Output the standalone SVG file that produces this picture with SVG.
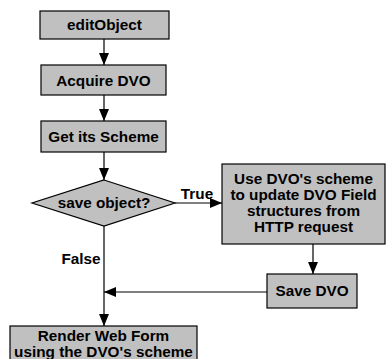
<svg xmlns="http://www.w3.org/2000/svg" width="387" height="359" viewBox="0 0 387 359">
<style>
.box{fill:#c0c0c0;stroke:#000;stroke-width:1.2}
.t{font-family:"Liberation Sans",Arial,sans-serif;font-weight:bold;font-size:15.3px;fill:#000;text-anchor:middle}
.c{stroke:#000;stroke-width:1.2;fill:none}
</style>
<defs>
<marker id="ah" viewBox="0 0 12 10" refX="12" refY="5" markerWidth="12" markerHeight="10" markerUnits="userSpaceOnUse" orient="auto">
<path d="M0,0 L12,5 L0,10 Z" fill="#000"/>
</marker>
</defs>
<rect width="387" height="359" fill="#fff"/>
<g id="connectors">
<line class="c" x1="104" y1="39" x2="104" y2="65" marker-end="url(#ah)"/>
<line class="c" x1="104" y1="95" x2="104" y2="121" marker-end="url(#ah)"/>
<line class="c" x1="104" y1="152" x2="104" y2="180" marker-end="url(#ah)"/>
<line class="c" x1="175" y1="203" x2="222" y2="203" marker-end="url(#ah)"/>
<line class="c" x1="313" y1="244" x2="313" y2="274" marker-end="url(#ah)"/>
<line class="c" x1="267" y1="292" x2="104" y2="292" marker-end="url(#ah)"/>
<line class="c" x1="104" y1="226" x2="104" y2="326" marker-end="url(#ah)"/>
<text class="t" x="197" y="199">True</text>
<text class="t" x="81" y="264">False</text>
</g>
<g id="editObject">
<rect class="box" x="40" y="11" width="129" height="28"/>
<text class="t" x="104.5" y="30">editObject</text>
</g>
<g id="acquire">
<rect class="box" x="41" y="65" width="125" height="30"/>
<text class="t" x="103.5" y="85.5">Acquire DVO</text>
</g>
<g id="scheme">
<rect class="box" x="41" y="121" width="125" height="31"/>
<text class="t" x="103.5" y="142">Get its Scheme</text>
</g>
<g id="decision">
<polygon class="box" points="104,180 175,203 104,226 32,203"/>
<text class="t" x="104" y="208">save object?</text>
</g>
<g id="update">
<rect class="box" x="222" y="164" width="163" height="80"/>
<text class="t" x="303.5" y="184">Use DVO's scheme</text>
<text class="t" x="303.5" y="200">to update DVO Field</text>
<text class="t" x="303.5" y="216">structures from</text>
<text class="t" x="303.5" y="232">HTTP request</text>
</g>
<g id="save">
<rect class="box" x="267" y="274" width="90" height="34"/>
<text class="t" x="312" y="296">Save DVO</text>
</g>
<g id="render">
<rect class="box" x="10" y="326" width="187" height="40"/>
<text class="t" x="103.5" y="341">Render Web Form</text>
<text class="t" x="103.5" y="357">using the DVO's scheme</text>
</g>
</svg>
